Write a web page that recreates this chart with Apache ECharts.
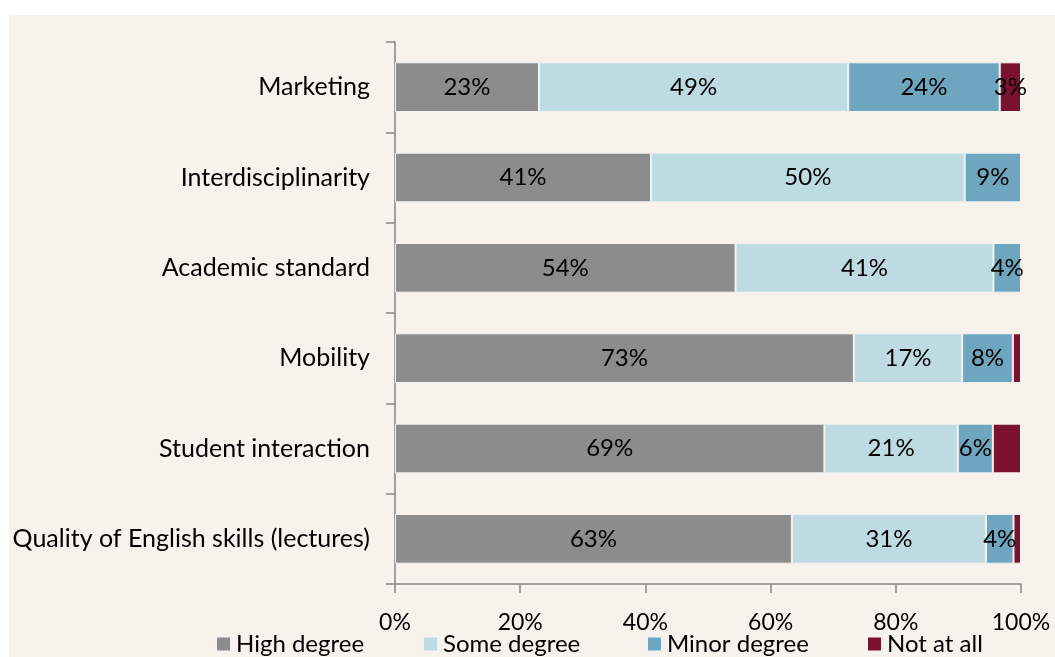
<!DOCTYPE html>
<html>
<head>
<meta charset="utf-8">
<script src="https://cdn.jsdelivr.net/npm/echarts@6/dist/echarts.min.js"></script>
<style>
  html, body { margin: 0; padding: 0; background: #ffffff; }
  #chart { position: absolute; left: 9px; top: 15px; width: 1046px; height: 642px; }
</style>
</head>
<body>
<div id="chart"></div>
<script>
// categories, top to bottom
const categories = ['Marketing', 'Interdisciplinarity', 'Academic standard', 'Mobility',
  'Student interaction', 'Quality of English skills (lectures)'];

// shares in percent
const highDegree  = [23.0, 40.9, 54.4, 73.3, 68.6, 63.4];
const someDegree  = [49.4, 50.1, 41.2, 17.3, 21.3, 31.0];
const minorDegree = [24.2,  9.0,  4.4,  8.1,  5.6,  4.4];
const notAtAll    = [ 3.4,  0.0,  0.0,  1.3,  4.5,  1.2];
// which "Not at all" segments carry a label in the original
const notAtAllLabelled = [true, false, false, false, false, false];

const seriesNames = ['High degree', 'Some degree', 'Minor degree', 'Not at all'];
const xTicks = [0, 20, 40, 60, 80, 100];

const fontFamily = 'Lato';
const chart = echarts.init(document.getElementById('chart'));

function seg(name, data, color, shown) {
  return {
    name: name,
    type: 'bar',
    stack: 'all',
    barWidth: '55%',
    data: data,
    itemStyle: { color: color, borderColor: '#f2f2f2', borderWidth: 1 },
    label: {
      show: true,
      position: 'inside',
      color: '#000',
      fontFamily: fontFamily,
      fontSize: 24,
      formatter: function (p) {
        if (!p.value) return '';
        if (shown && !shown[p.dataIndex]) return '';
        return Math.round(p.value) + '%';
      }
    },
    emphasis: { disabled: true }
  };
}

// one legend per entry so the spacing can follow the original
const legendLeft = [206, 413, 637, 857];
const legends = seriesNames.map(function (n, i) {
  return {
    left: legendLeft[i],
    top: 615,
    padding: 0,
    itemWidth: 15,
    itemHeight: 15,
    icon: 'rect',
    selectedMode: false,
    textStyle: { fontFamily: fontFamily, fontSize: 24, color: '#000', lineHeight: 28 },
    data: [n]
  };
});

chart.setOption({
  backgroundColor: '#f7f2ec',
  animation: false,
  textStyle: { fontFamily: fontFamily },
  grid: { left: 386, right: 34, top: 27, bottom: 73 },
  legend: legends,
  xAxis: {
    type: 'value',
    min: xTicks[0],
    max: xTicks[xTicks.length - 1],
    interval: 20,
    splitLine: { show: false },
    axisLine: { show: true, lineStyle: { color: '#868686', width: 1.5 } },
    axisTick: { show: true, length: 9, lineStyle: { color: '#868686', width: 1.5 } },
    axisLabel: { color: '#000', fontSize: 23, margin: 27, formatter: '{value}%' }
  },
  yAxis: {
    type: 'category',
    inverse: true,
    data: categories,
    axisLine: { show: true, lineStyle: { color: '#868686', width: 1.5 } },
    axisTick: { show: true, length: 9, lineStyle: { color: '#868686', width: 1.5 } },
    axisLabel: { color: '#000', fontSize: 25, margin: 25 }
  },
  series: [
    seg(seriesNames[0], highDegree, '#8c8c8c'),
    seg(seriesNames[1], someDegree, '#bedbe3'),
    seg(seriesNames[2], minorDegree, '#6da6be'),
    seg(seriesNames[3], notAtAll, '#7b1230', notAtAllLabelled)
  ]
});
</script>
</body>
</html>
